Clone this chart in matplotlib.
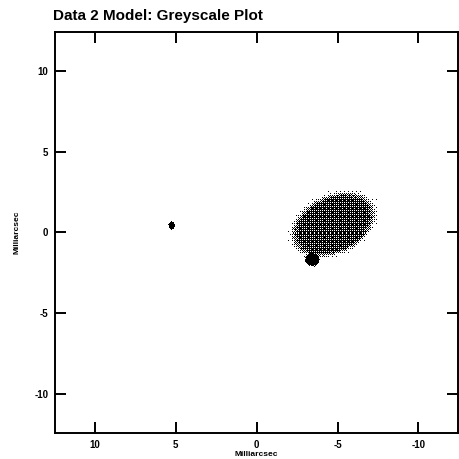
import numpy as np
import matplotlib.pyplot as plt

plt.rcParams['font.family'] = ['Liberation Sans', 'DejaVu Sans']
plt.rcParams['font.weight'] = 'bold'

# model components (offsets in mas, sizes = full widths in mas, angle in deg from +x)
comp_names = ["core", "jet", "counterjet"]
comp_x = [-3.4, -4.7, 5.25]
comp_y = [-1.67, 0.46, 0.37]
comp_major = [0.88, 5.2, 0.50]
comp_minor = [0.84, 3.4, 0.40]
comp_angle = [0.0, 155.0, 90.0]
comp_peak = [1.0, 0.8, 1.0]

ticks = [10, 5, 0, -5, -10]
lim = 12.45

# pixel grid over the field
nx, ny = 403, 401
xs = np.linspace(lim, -lim, nx)
ys = np.linspace(lim, -lim, ny)
X, Y = np.meshgrid(xs, ys)

img = np.zeros_like(X)
for x0, y0, maj, mnr, ang, pk in zip(comp_x, comp_y, comp_major, comp_minor, comp_angle, comp_peak):
    t = np.deg2rad(ang)
    dx, dy = X - x0, Y - y0
    u = dx * np.cos(t) + dy * np.sin(t)
    v = -dx * np.sin(t) + dy * np.cos(t)
    r = np.sqrt((u / (maj / 2)) ** 2 + (v / (mnr / 2)) ** 2)
    img = np.maximum(img, pk / (1 + r ** 26))

# ordered dither to get the stippled greyscale look
b2 = np.array([[0, 2], [3, 1]])
b4 = np.block([[4 * b2, 4 * b2 + 2], [4 * b2 + 3, 4 * b2 + 1]])
b8 = np.block([[4 * b4, 4 * b4 + 2], [4 * b4 + 3, 4 * b4 + 1]])
thr = (b8 + 0.5) / 64.0
thr = np.tile(thr, (ny // 8 + 1, nx // 8 + 1))[:ny, :nx]
dots = (img > thr).astype(float)

fig = plt.figure(figsize=(4.59, 4.59), dpi=100)
ax = fig.add_axes([0.120, 0.0566, 0.878, 0.874])
ax.imshow(dots, cmap='gray_r', vmin=0, vmax=1, interpolation='nearest',
          extent=[lim, -lim, -lim, lim], aspect='auto')
ax.set_xlim(lim, -lim)
ax.set_ylim(-lim, lim)
ax.set_xticks(ticks)
ax.set_yticks(ticks)
ax.set_xticklabels([str(t) for t in ticks])
ax.set_yticklabels([str(t) for t in ticks])
ax.tick_params(direction='in', top=True, right=True, length=8, width=1.4,
               labelsize=7, pad=5)
for s in ax.spines.values():
    s.set_linewidth(1.4)

ax.set_xlabel("Milliarcsec", fontsize=6, fontweight='bold', labelpad=1)
ax.set_ylabel("Milliarcsec", fontsize=6, fontweight='bold', labelpad=10)
fig.text(0.115, 0.965, "Data 2 Model: Greyscale Plot", fontsize=11,
         fontweight='bold', ha='left', va='center')

fig.savefig("out.png", dpi=100)
